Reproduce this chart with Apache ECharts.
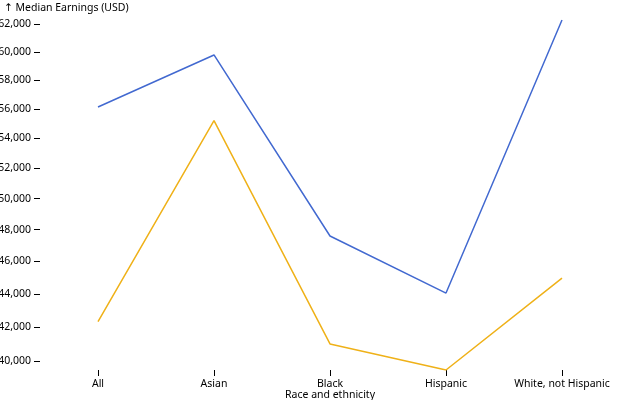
<!DOCTYPE html>
<html>
<head>
<meta charset="utf-8">
<script src="https://cdn.jsdelivr.net/npm/echarts@6/dist/echarts.min.js"></script>
<style>
html,body{margin:0;padding:0;background:#fff;}
#chart{width:640px;height:400px;}
</style>
</head>
<body>
<div id="chart"></div>
<script>
// Data
const categories = ["All", "Asian", "Black", "Hispanic", "White, not Hispanic"];
const seriesA = [56140, 59780, 47600, 44050, 62290];   // blue line
const seriesB = [42320, 55200, 41000, 39480, 44970];   // orange line
const yTicks = [40000, 42000, 44000, 46000, 48000, 50000, 52000, 54000, 56000, 58000, 60000, 62000];

// the y scale is a square-root scale: values are mapped through sqrt
const sq = v => Math.sqrt(v);
const fmt = v => Math.round(v * v).toLocaleString('en-US');

const chart = echarts.init(document.getElementById('chart'), null, {renderer: 'canvas'});
const font = 'Noto Sans, DejaVu Sans, sans-serif';
const fs = 10.5;
chart.setOption({
  animation: false,
  textStyle: {fontFamily: font},
  title: {
    text: '\u2191 Median Earnings (USD)',
    left: 4, top: 3, padding: 0,
    textStyle: {fontSize: fs, fontWeight: 'normal', color: '#000', fontFamily: font}
  },
  grid: {left: 40, right: 20, top: 20, bottom: 30, containLabel: false, outerBoundsMode: 'none'},
  xAxis: {
    type: 'category',
    data: categories,
    boundaryGap: true,
    axisLine: {show: false},
    axisTick: {show: true, alignWithLabel: true, length: 6, lineStyle: {color: '#000', width: 1}},
    axisLabel: {color: '#000', fontSize: fs, margin: 9, interval: 0, fontFamily: font},
    splitLine: {show: false},
    name: 'Race and ethnicity',
    nameLocation: 'middle',
    nameGap: 20,
    nameMoveOverlap: false,
    nameTextStyle: {color: '#000', fontSize: fs, fontFamily: font}
  },
  yAxis: {
    type: 'value',
    min: 'dataMin',
    max: 'dataMax',
    scale: true,
    axisLine: {show: false},
    axisTick: {show: true, length: 6, customValues: yTicks.map(sq), lineStyle: {color: '#000', width: 1}},
    axisLabel: {color: '#000', fontSize: fs, margin: 9, customValues: yTicks.map(sq), formatter: fmt, fontFamily: font, showMinLabel: true, showMaxLabel: true},
    splitLine: {show: false}
  },
  series: [
    {
      type: 'line',
      data: seriesA.map(sq),
      showSymbol: false,
      symbol: 'none',
      lineStyle: {color: '#4269d0', width: 1.5},
      itemStyle: {color: '#4269d0'}
    },
    {
      type: 'line',
      data: seriesB.map(sq),
      showSymbol: false,
      symbol: 'none',
      lineStyle: {color: '#efb118', width: 1.5},
      itemStyle: {color: '#efb118'}
    }
  ]
});
</script>
</body>
</html>
